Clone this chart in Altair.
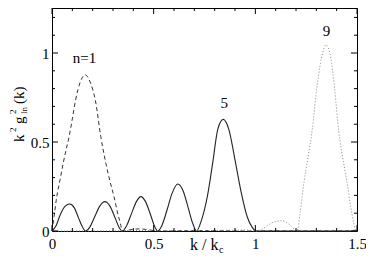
import altair as alt
import pandas as pd

# ---- data ----
k_n1 = [0, 0.01, 0.023, 0.04, 0.055, 0.07, 0.084, 0.1, 0.116, 0.14, 0.163, 0.19, 0.213, 0.24, 0.265, 0.285, 0.305, 0.325, 0.337, 0.345, 0.38, 0.43, 0.48, 0.52, 0.7, 1.0, 1.5]
g_n1 = [0, 0.08, 0.19, 0.29, 0.38, 0.46, 0.53, 0.63, 0.736, 0.84, 0.878, 0.83, 0.736, 0.53, 0.38, 0.28, 0.193, 0.09, 0.04, 0.0, 0.006, 0.012, 0.006, 0.0, 0.002, 0.0, 0.0]

k_n5 = [0, 0.02, 0.04, 0.065, 0.087, 0.11, 0.13, 0.15, 0.165,
        0.185, 0.21, 0.235, 0.26, 0.285, 0.31, 0.33, 0.345,
        0.365, 0.39, 0.415, 0.437, 0.46, 0.485, 0.505, 0.52,
        0.54, 0.565, 0.59, 0.619, 0.645, 0.67, 0.69, 0.711,
        0.735, 0.765, 0.79, 0.815, 0.842, 0.87, 0.90, 0.93, 0.96, 0.985, 1.006, 1.5]
g_n5 = [0, 0.03, 0.09, 0.14, 0.152, 0.13, 0.075, 0.022, 0,
        0.02, 0.08, 0.14, 0.165, 0.14, 0.075, 0.02, 0,
        0.025, 0.095, 0.165, 0.193, 0.165, 0.09, 0.025, 0,
        0.03, 0.115, 0.21, 0.264, 0.225, 0.13, 0.05, 0,
        0.06, 0.2, 0.38, 0.57, 0.627, 0.57, 0.4, 0.22, 0.08, 0.02, 0, 0]

k_n9 = [0, 0.3, 0.5, 0.7, 0.9, 0.95, 1.006, 1.04, 1.08, 1.13, 1.17, 1.205,
        1.22, 1.24, 1.26, 1.28, 1.30, 1.325, 1.348, 1.37, 1.39, 1.41, 1.43, 1.45, 1.47, 1.485, 1.495, 1.5]
g_n9 = [0, 0.001, 0.003, 0.002, 0.005, 0.006, 0, 0.015, 0.045, 0.058, 0.035, 0,
        0.1, 0.28, 0.42, 0.57, 0.78, 0.97, 1.045, 0.98, 0.8, 0.56, 0.41, 0.28, 0.13, 0.04, 0, 0]

label_text = ["n=1", "5", "9"]
label_k = [0.16, 0.847, 1.35]
label_g = [0.944, 0.691, 1.096]

x_major = [0, 0.5, 1, 1.5]
x_minor = [0.1, 0.2, 0.3, 0.4, 0.6, 0.7, 0.8, 0.9, 1.1, 1.2, 1.3, 1.4]
y_major = [0, 0.5, 1]
y_minor = [0.1, 0.2, 0.3, 0.4, 0.6, 0.7, 0.8, 0.9, 1.1, 1.2]

# ---- layout ----
W, H = 305, 223
FONT = "Liberation Serif, Times New Roman, DejaVu Serif, serif"
xs = alt.Scale(domain=[0, 1.5], nice=False, zero=False)
ys = alt.Scale(domain=[0, 1.253], nice=False, zero=False)

df1 = pd.DataFrame({"k": k_n1, "g": g_n1})
df5 = pd.DataFrame({"k": k_n5, "g": g_n5})
df9 = pd.DataFrame({"k": k_n9, "g": g_n9})

xaxis = alt.Axis(values=x_major, format="~g", title=None, labelPadding=5, labelFlush=False)
yaxis = alt.Axis(values=y_major, format="~g", title=None, labelPadding=3, labelFlush=False)

line1 = alt.Chart(df1).mark_line(color="#333", strokeWidth=1, strokeDash=[4, 3], interpolate="monotone").encode(
    x=alt.X("k:Q", scale=xs, axis=xaxis), y=alt.Y("g:Q", scale=ys, axis=yaxis))
line5 = alt.Chart(df5).mark_line(color="#222", strokeWidth=1.1, interpolate="monotone").encode(
    x=alt.X("k:Q", scale=xs), y=alt.Y("g:Q", scale=ys))
line9 = alt.Chart(df9).mark_line(color="#888", strokeWidth=1, strokeDash=[1, 2], interpolate="monotone").encode(
    x=alt.X("k:Q", scale=xs), y=alt.Y("g:Q", scale=ys))

labels = alt.Chart(pd.DataFrame({"t": label_text, "k": label_k, "g": label_g})).mark_text(
    font=FONT, fontSize=15, baseline="alphabetic", align="center", color="black").encode(
    x=alt.X("k:Q", scale=xs), y=alt.Y("g:Q", scale=ys), text="t:N")

def xticks(vals, length):
    d = pd.DataFrame({"v": vals})
    b = alt.Chart(d).mark_rule(color="black", strokeWidth=1).encode(
        x=alt.X("v:Q", scale=xs), y=alt.value(H), y2=alt.value(H - length))
    t = alt.Chart(d).mark_rule(color="black", strokeWidth=1).encode(
        x=alt.X("v:Q", scale=xs), y=alt.value(0), y2=alt.value(length))
    return [b, t]

def yticks(vals, length):
    d = pd.DataFrame({"v": vals})
    l = alt.Chart(d).mark_rule(color="black", strokeWidth=1).encode(
        y=alt.Y("v:Q", scale=ys), x=alt.value(0), x2=alt.value(length))
    r = alt.Chart(d).mark_rule(color="black", strokeWidth=1).encode(
        y=alt.Y("v:Q", scale=ys), x=alt.value(W), x2=alt.value(W - length))
    return [l, r]

one = pd.DataFrame({"a": [0]})

def piece(text, px, py, size, angle=0):
    return alt.Chart(one).mark_text(font=FONT, fontSize=size, align="left", baseline="alphabetic",
                                    angle=angle, color="black").encode(
        x=alt.value(px), y=alt.value(py), text=alt.value(text))

title_parts = [
    piece("k / k", 138, 242, 16),
    piece("c", 167, 245, 10),
    piece("k", -28, 134, 15, 270),
    piece("2", -36, 124, 9, 270),
    piece("g", -28, 116, 15, 270),
    piece("ln", -25, 106, 9, 270),
    piece("2", -36, 106, 9, 270),
    piece("(k)", -28, 96, 15, 270),
]

chart = alt.layer(
    line1, line5, line9, labels,
    *xticks(x_major, 6), *xticks(x_minor, 3),
    *yticks(y_major, 6), *yticks(y_minor, 3),
    *title_parts,
).properties(
    width=W, height=H,
    autosize=alt.AutoSizeParams(type="none"),
    padding={"left": 44, "top": 0, "right": 9, "bottom": 23},
).configure_view(stroke="black", strokeWidth=1).configure_axis(
    grid=False, ticks=False, domain=False, labelFont=FONT, labelFontSize=15, labelColor="black")

chart.save("out.html", embed_options={"renderer": "svg", "actions": False})
